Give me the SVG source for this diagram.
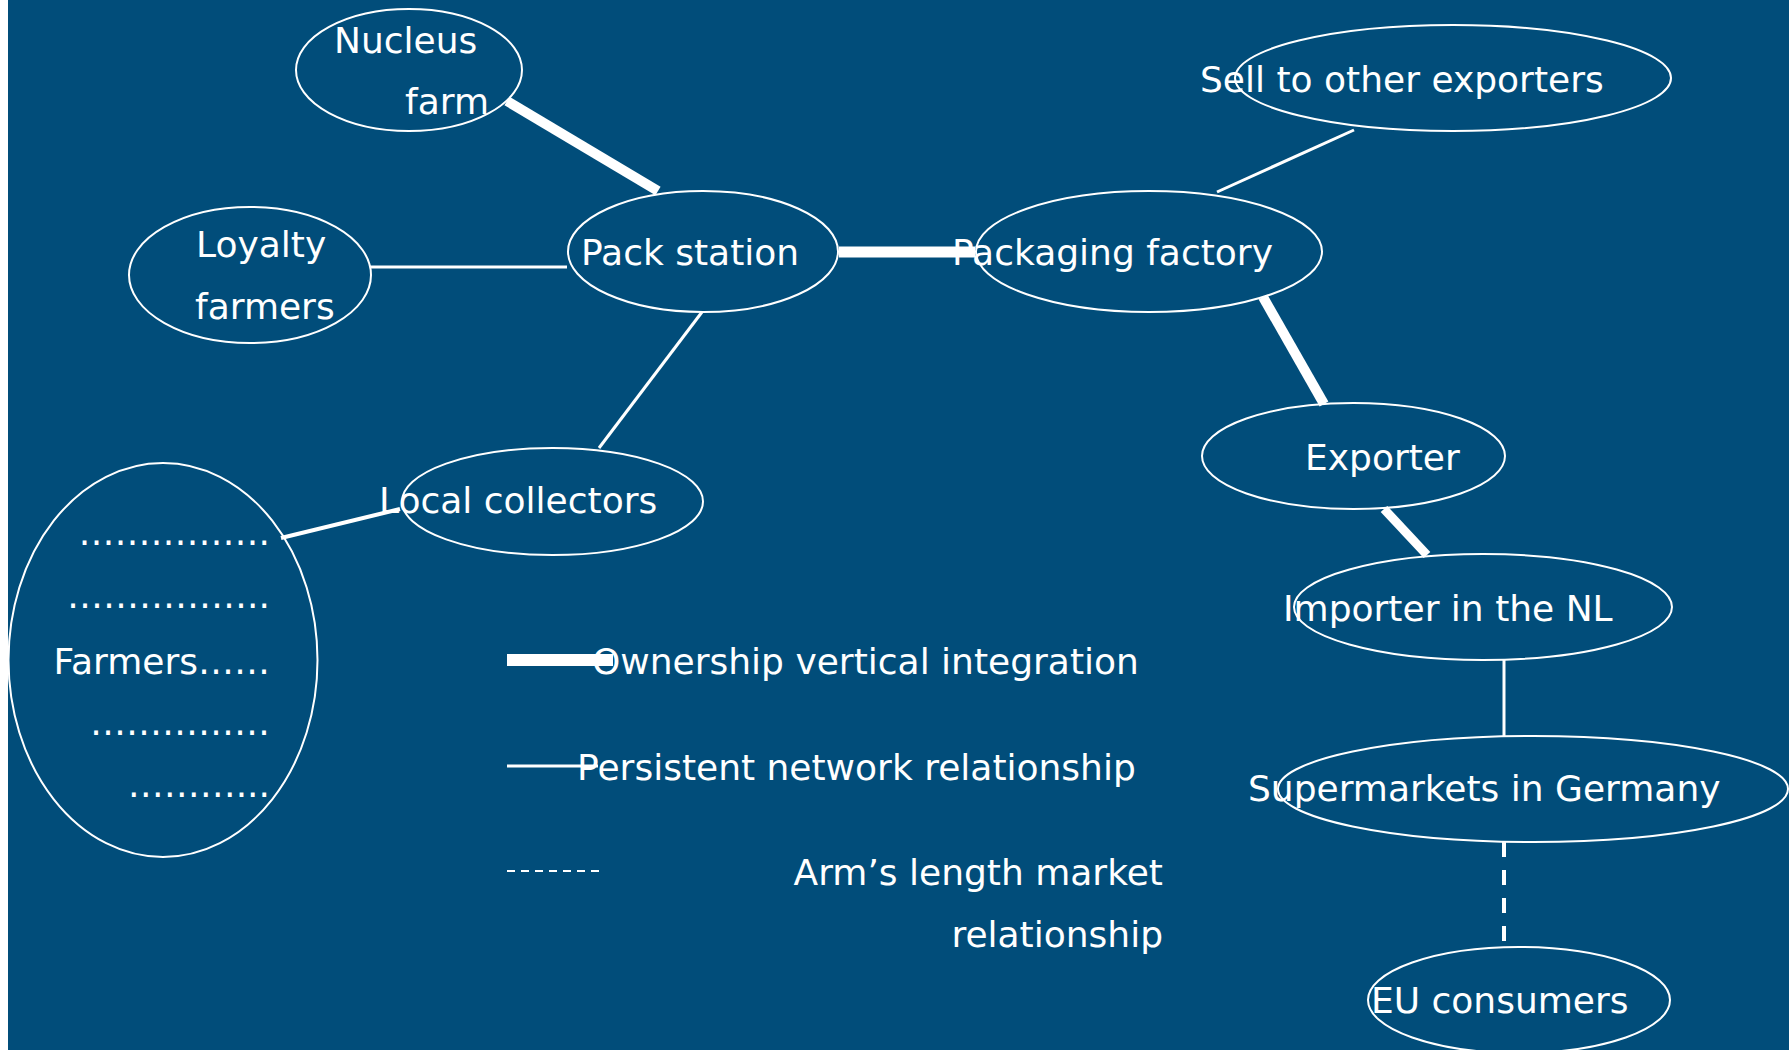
<svg xmlns="http://www.w3.org/2000/svg" width="1789" height="1050" viewBox="0 0 1789 1050">
  <defs>
    <style>
      .node { fill: none; stroke: #ffffff; stroke-width: 2; }
      .lbl { fill: #ffffff; font-family: "DejaVu Sans", "Liberation Sans", sans-serif; font-size: 36px; }
      .end { text-anchor: end; }
      .own { stroke: #ffffff; stroke-width: 10; fill: none; }
      .net { stroke: #ffffff; stroke-width: 3; fill: none; }
      .arm { stroke: #ffffff; stroke-width: 4; stroke-dasharray: 15 13; fill: none; }
    </style>
  </defs>

  <!-- page -->
  <rect x="0" y="0" width="1789" height="1050" fill="#ffffff"/>
  <rect x="8" y="0" width="1781" height="1050" fill="#014d7a"/>

  <!-- relationships between chain actors -->
  <g id="connectors">
    <line class="own" x1="507" y1="101" x2="658" y2="191"/>
    <line class="net" x1="370" y1="267" x2="567" y2="267"/>
    <line class="net" x1="702" y1="312" x2="599" y2="448"/>
    <line class="own" x1="839" y1="252" x2="975" y2="252" style="stroke-width:11"/>
    <line class="net" x1="1217" y1="192" x2="1354" y2="130"/>
    <line class="own" x1="1263" y1="297" x2="1324" y2="404"/>
    <line class="own" x1="1384" y1="509" x2="1427" y2="555" style="stroke-width:9"/>
    <line class="net" x1="1504" y1="660" x2="1504" y2="736"/>
    <line class="arm" x1="1504" y1="842" x2="1504" y2="944"/>
    <line class="net" x1="281" y1="538" x2="400" y2="509" style="stroke-width:4"/>
  </g>

  <g id="nucleus-farm">
    <ellipse class="node" cx="409" cy="70" rx="113" ry="61"/>
    <text class="lbl" x="334" y="53">Nucleus</text>
    <text class="lbl" x="405" y="114">farm</text>
  </g>

  <g id="loyalty-farmers">
    <ellipse class="node" cx="250" cy="275" rx="121" ry="68"/>
    <text class="lbl" x="196" y="257">Loyalty</text>
    <text class="lbl" x="195" y="319">farmers</text>
  </g>

  <g id="pack-station">
    <ellipse class="node" cx="703" cy="251.5" rx="135" ry="60.5"/>
    <text class="lbl" x="581" y="265">Pack station</text>
  </g>

  <g id="packaging-factory">
    <ellipse class="node" cx="1149" cy="251.5" rx="173" ry="60.5"/>
    <text class="lbl" x="952" y="265">Packaging factory</text>
  </g>

  <g id="sell-to-other-exporters">
    <ellipse class="node" cx="1453" cy="78" rx="218" ry="53"/>
    <text class="lbl" x="1200" y="92">Sell to other exporters</text>
  </g>

  <g id="exporter">
    <ellipse class="node" cx="1353.5" cy="456" rx="151.5" ry="53"/>
    <text class="lbl" x="1305" y="470">Exporter</text>
  </g>

  <g id="importer-nl">
    <ellipse class="node" cx="1483" cy="607" rx="189" ry="53"/>
    <text class="lbl" x="1283" y="621">Importer in the NL</text>
  </g>

  <g id="supermarkets-germany">
    <ellipse class="node" cx="1533" cy="789" rx="255" ry="53"/>
    <text class="lbl" x="1248" y="801">Supermarkets in Germany</text>
  </g>

  <g id="eu-consumers">
    <ellipse class="node" cx="1519" cy="1000" rx="151" ry="53"/>
    <text class="lbl" x="1371" y="1013">EU consumers</text>
  </g>

  <g id="local-collectors">
    <ellipse class="node" cx="552.5" cy="501.5" rx="150.5" ry="53.5"/>
    <text class="lbl" x="379" y="513">Local collectors</text>
  </g>

  <g id="farmers">
    <ellipse class="node" cx="163" cy="660" rx="154.5" ry="197"/>
    <text class="lbl end" x="270" y="545">…………….</text>
    <text class="lbl end" x="270" y="608">……………..</text>
    <text class="lbl end" x="270" y="674">Farmers……</text>
    <text class="lbl end" x="270" y="735">……………</text>
    <text class="lbl end" x="270" y="797">………...</text>
  </g>

  <!-- key to the line styles -->
  <g id="legend">
    <line x1="507" y1="660" x2="613" y2="660" stroke="#ffffff" stroke-width="12"/>
    <text class="lbl" x="592" y="674">Ownership vertical integration</text>
    <line x1="507" y1="766" x2="598" y2="766" stroke="#ffffff" stroke-width="3"/>
    <text class="lbl" x="577" y="780">Persistent network relationship</text>
    <line x1="507" y1="871" x2="599" y2="871" stroke="#ffffff" stroke-width="2" stroke-dasharray="8 6"/>
    <text class="lbl end" x="1163" y="885">Arm’s length market</text>
    <text class="lbl end" x="1163" y="947">relationship</text>
  </g>
</svg>
